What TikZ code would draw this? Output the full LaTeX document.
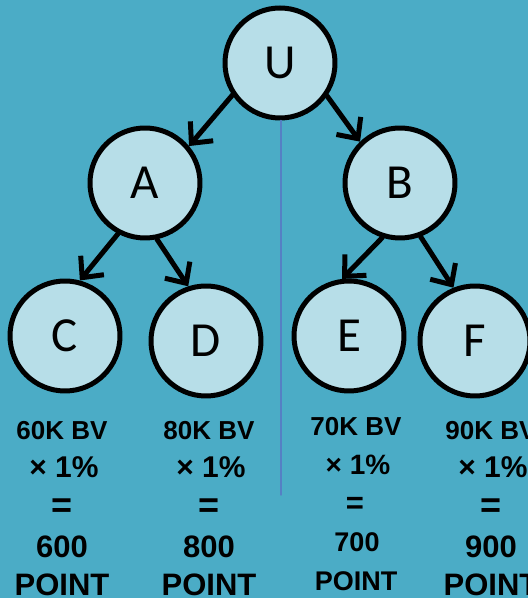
\documentclass[tikz,border=0pt]{standalone}
\usepackage{fontspec}
\setmainfont{Liberation Sans}
\newfontfamily\lettfont{Carlito}
\usetikzlibrary{arrows.meta}
\definecolor{bgaqua}{HTML}{4BACC6}
\definecolor{ballblue}{HTML}{B7DEE8}
\definecolor{axisblue}{HTML}{5580C4}

\begin{document}
\begin{tikzpicture}[x=1pt,y=1pt,line cap=round,line join=round,
  every node/.style={inner sep=0pt},
  ball/.style={circle,draw=black,fill=ballblue,line width=5pt,minimum size=110pt,
    font=\lettfont\fontsize{49}{49}\selectfont},
  arr/.style={line width=5pt,-{Straight Barb[length=16pt,width=30pt]}},
  lab/.style={anchor=base}]
  % 背景
  \fill[bgaqua] (0,0) rectangle (528,598);
  \useasboundingbox (0,0) rectangle (528,598);
  % 结点
  \node[ball] (U) at (280,535) {U};
  \node[ball] (A) at (145,415) {A};
  \node[ball] (B) at (400,415) {B};
  \node[ball] (C) at (65,262) {C};
  \node[ball] (D) at (206,257) {D};
  \node[ball] (E) at (349,262) {E};
  \node[ball] (F) at (475,257) {F};
  % 中线
  \coordinate (axend) at (281,103);
  \draw[axisblue,line width=1.5pt] (U.south -| axend) -- (axend);
  % 箭头
  \draw[arr] (U.214) -- (A.40);
  \draw[arr] (U.325) -- (B.134);
  \draw[arr] (A.242) -- (C.75);
  \draw[arr] (A.282) -- (D.108);
  \draw[arr] (B.252) -- (E.97);
  \draw[arr] (B.291) -- (F.112);
  % 各列算式
  \foreach \x/\bv/\pt/\n in {62/60/600/c,209/80/800/d,491/90/900/f}{
    \node[lab,font=\fontsize{26}{26}\selectfont\bfseries] (bv\n) at (\x,158) {\bv K BV};
    \node[lab,font=\fontsize{30}{30}\selectfont\bfseries] (pct\n) at (\x+2,120) {× 1\%};
    \node[lab,font=\fontsize{36}{36}\selectfont\bfseries] (eq\n) at (\x,80) {=};
    \node[lab,font=\fontsize{31}{31}\selectfont\bfseries] (pts\n) at (\x,41) {\pt};
    \node[lab,font=\fontsize{31}{31}\selectfont\bfseries] (pnt\n) at (\x,2) {POINT};
  }
  \node[lab,font=\fontsize{26}{26}\selectfont\bfseries] (bve) at (356,162) {70K BV};
  \node[lab,font=\fontsize{28}{28}\selectfont\bfseries] (pcte) at (358,123) {× 1\%};
  \node[lab,font=\fontsize{31}{31}\selectfont\bfseries] (eqe) at (355,84) {=};
  \node[lab,font=\fontsize{27}{27}\selectfont\bfseries] (ptse) at (357,46) {700};
  \node[lab,font=\fontsize{27}{27}\selectfont\bfseries] (pnte) at (356,8) {POINT};
\end{tikzpicture}
\end{document}
